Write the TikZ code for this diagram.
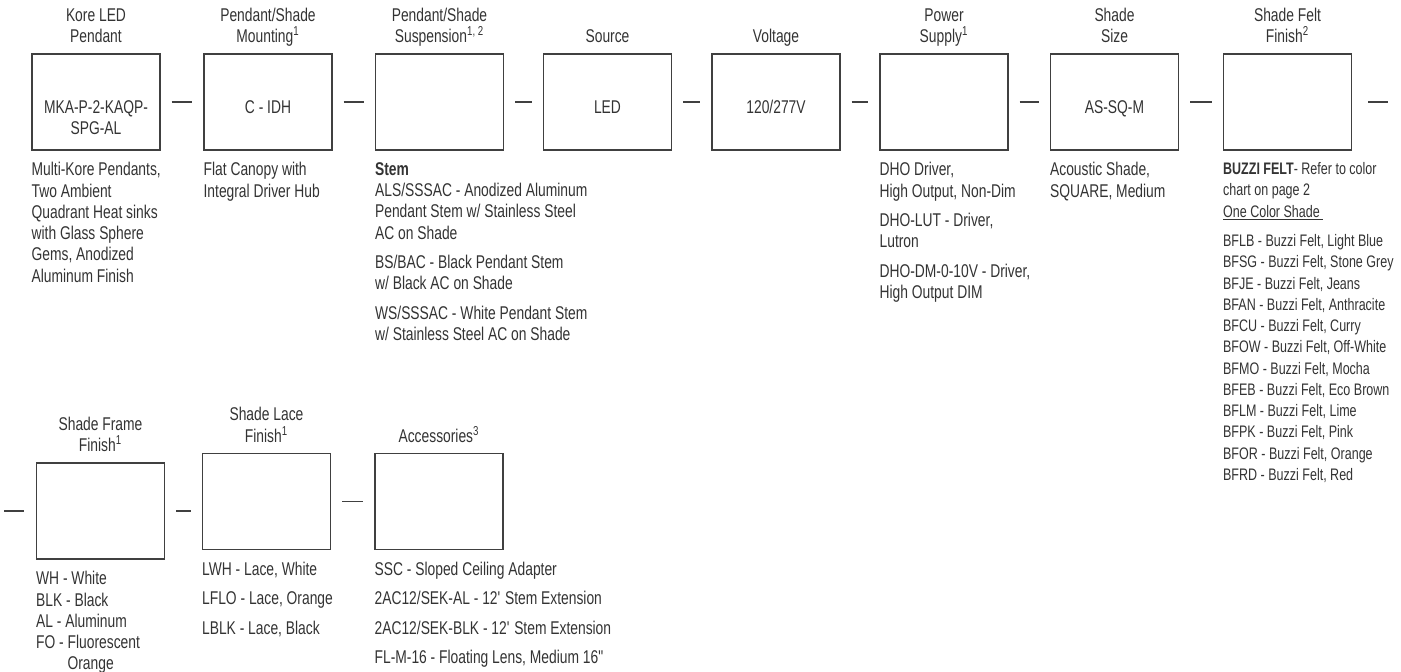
\documentclass[tikz,border=0pt]{standalone}
\usepackage{fontspec}
\setmainfont{Liberation Sans}[FakeStretch=0.75]
\usepackage{tikz}
\usetikzlibrary{positioning}
\definecolor{inkgray}{HTML}{333333}
\definecolor{rulegray}{HTML}{404040}
\newcommand{\descfont}{\fontsize{10.5}{12.1}\selectfont}
\newcommand{\feltfont}{\fontsize{9.5}{12.1}\selectfont}

\tikzset{
  optbox/.style={draw=rulegray, line width=0.85pt, minimum width=2.56cm,
    minimum height=1.92cm, inner sep=0pt},
  heading/.style={anchor=south, align=center, inner sep=0pt, text=inkgray, font=\descfont},
  code/.style={anchor=north, align=center, inner sep=0pt, text=inkgray, font=\descfont},
  desc/.style={anchor=north west, align=left, inner sep=0pt, text=inkgray, font=\descfont},
  link/.style={draw=rulegray, line width=0.75pt, shorten <=0.22cm, shorten >=0.22cm},
}

\begin{document}
\begin{tikzpicture}[x=0.02cm, y=-0.02cm]
  \useasboundingbox (0,0) rectangle (1401,672);
  % Top row
  \node[optbox] (kore)   at (96,102)     {};
  \node[optbox] (mount)  at (268,102)    {};
  \node[optbox] (susp)   at (439.5,102)  {};
  \node[optbox] (source) at (607.5,102)  {};
  \node[optbox] (volt)   at (776,102)    {};
  \node[optbox] (power)  at (944,102)    {};
  \node[optbox] (size)   at (1114.5,102) {};
  \node[optbox] (felt)   at (1287.5,102) {};
  % Headings
  \node[heading] (koreT)   at ([yshift=0.08cm]kore.north)   {Kore LED\\Pendant\strut};
  \node[heading] (mountT)  at ([yshift=0.08cm]mount.north)  {Pendant/Shade\\Mounting\textsuperscript{1}\strut};
  \node[heading] (suspT)   at ([yshift=0.08cm]susp.north)   {Pendant/Shade\\Suspension\textsuperscript{1, 2}\strut};
  \node[heading] (sourceT) at ([yshift=0.08cm]source.north) {Source\strut};
  \node[heading] (voltT)   at ([yshift=0.08cm]volt.north)   {Voltage\strut};
  \node[heading] (powerT)  at ([yshift=0.08cm]power.north)  {Power\\Supply\textsuperscript{1}\strut};
  \node[heading] (sizeT)   at ([yshift=0.08cm]size.north)   {Shade\\Size\strut};
  \node[heading] (feltT)   at ([yshift=0.08cm]felt.north)   {Shade Felt\\Finish\textsuperscript{2}\strut};
  % Codes in boxes
  \node[code] (koreC)   at ([yshift=0.04cm]kore.center)   {MKA-P-2-KAQP-\\SPG-AL};
  \node[code] (mountC)  at ([yshift=0.04cm]mount.center)  {C - IDH};
  \node[code] (sourceC) at ([yshift=0.04cm]source.center) {LED};
  \node[code] (voltC)   at ([yshift=0.04cm]volt.center)   {120/277V};
  \node[code] (sizeC)   at ([yshift=0.04cm]size.center)   {AS-SQ-M};
  % Descriptions
  \node[desc] (koreD) at ([yshift=-0.23cm]kore.south west)
    {Multi-Kore Pendants,\\Two Ambient\\Quadrant Heat sinks\\with Glass Sphere\\Gems, Anodized\\Aluminum Finish};
  \node[desc] (mountD) at ([yshift=-0.23cm]mount.south west)
    {Flat Canopy with\\Integral Driver Hub};
  \node[desc] (suspD) at ([yshift=-0.23cm]susp.south west)
    {\textbf{Stem}\\ALS/SSSAC - Anodized Aluminum\\Pendant Stem w/ Stainless Steel\\AC on Shade\\[4.6pt]
     BS/BAC - Black Pendant Stem\\w/ Black AC on Shade\\[4.6pt]
     WS/SSSAC - White Pendant Stem\\w/ Stainless Steel AC on Shade};
  \node[desc] (powerD) at ([yshift=-0.23cm]power.south west)
    {DHO Driver,\\High Output, Non-Dim\\[4.6pt]DHO-LUT - Driver,\\Lutron\\[4.6pt]
     DHO-DM-0-10V - Driver,\\High Output DIM};
  \node[desc] (sizeD) at ([yshift=-0.23cm]size.south west)
    {Acoustic Shade,\\SQUARE, Medium};
  \node[desc, font=\feltfont] (feltD) at ([yshift=-0.23cm]felt.south west)
    {\textbf{BUZZI FELT}- Refer to color\\chart on page 2\\\underline{One Color Shade\ }\\[4.6pt]
     BFLB - Buzzi Felt, Light Blue\\BFSG - Buzzi Felt, Stone Grey\\BFJE - Buzzi Felt, Jeans\\
     BFAN - Buzzi Felt, Anthracite\\BFCU - Buzzi Felt, Curry\\BFOW - Buzzi Felt, Off-White\\
     BFMO - Buzzi Felt, Mocha\\BFEB - Buzzi Felt, Eco Brown\\BFLM - Buzzi Felt, Lime\\
     BFPK - Buzzi Felt, Pink\\BFOR - Buzzi Felt, Orange\\BFRD - Buzzi Felt, Red};
  % Bottom row
  \node[optbox] (frame) at (100.5,511)  {};
  \node[optbox] (lace)  at (266.5,501.5) {};
  \node[optbox] (acc)   at (439,501.5)   {};
  \node[heading] (frameT) at ([yshift=0.08cm]frame.north) {Shade Frame\\Finish\textsuperscript{1}\strut};
  \node[heading] (laceT)  at ([yshift=0.08cm]lace.north)  {Shade Lace\\Finish\textsuperscript{1}\strut};
  \node[heading] (accT)   at ([yshift=0.08cm]acc.north)   {Accessories\textsuperscript{3}\strut};
  \node[desc] (frameD) at ([yshift=-0.23cm]frame.south west)
    {WH - White\\BLK - Black\\AL - Aluminum\\FO - Fluorescent\\\phantom{FO - }Orange};
  \node[desc] (laceD) at ([yshift=-0.23cm]lace.south west)
    {LWH - Lace, White\\[4.6pt]LFLO - Lace, Orange\\[4.6pt]LBLK - Lace, Black};
  \node[desc] (accD) at ([yshift=-0.23cm]acc.south west)
    {SSC - Sloped Ceiling Adapter\\[4.6pt]2AC12/SEK-AL - 12\textquotesingle{} Stem Extension\\[4.6pt]
     2AC12/SEK-BLK - 12\textquotesingle{} Stem Extension\\[4.6pt]FL-M-16 - Floating Lens, Medium 16\textquotedbl};
  % Dashes between options
  \draw[link] (kore) -- (mount);
  \draw[link] (mount) -- (susp);
  \draw[link] (susp) -- (source);
  \draw[link] (source) -- (volt);
  \draw[link] (volt) -- (power);
  \draw[link] (power) -- (size);
  \draw[link] (size) -- (felt);
  \coordinate (rowend) at (1388,102);
  \draw[link, shorten <=0.32cm, shorten >=0pt] (felt) -- (rowend);
  \coordinate (rowstart) at (4,511);
  \draw[link, shorten <=0pt, shorten >=0.24cm] (rowstart) -- (frame);
  \draw[link] (frame.east) -- (frame.east -| lace.west);
  \draw[link] (lace) -- (acc);
\end{tikzpicture}
\end{document}
